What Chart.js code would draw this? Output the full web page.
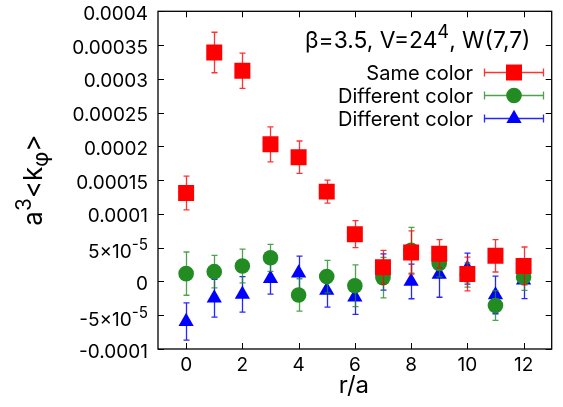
<!DOCTYPE html>
<html><head><meta charset="utf-8">
<script src="https://cdn.jsdelivr.net/npm/chart.js@4/dist/chart.umd.min.js"></script>
<style>html,body{margin:0;padding:0;background:#fff;} #wrap{width:563px;height:407px;position:relative;}</style>
</head><body><div id="wrap"><canvas id="c" width="563" height="407"></canvas></div>
<script>
// ---- data ----
const R = [0,1,2,3,4,5,6,7,8,9,10,11,12];
const SAME = [0.000131,0.000339,0.000312,0.000203,0.000184,0.000133,0.000070,0.000021,0.000043,0.000041,0.000011,0.000038,0.000023];
const SAME_ERR = [0.000025,0.000030,0.000026,0.000026,0.000024,0.000017,0.000020,0.000025,0.000032,0.000021,0.000025,0.000024,0.000028];
const DIFF_G = [0.0000116,0.0000145,0.0000228,0.000035,-0.00002,0.0000072,-0.0000064,0.0000057,0.0000462,0.0000267,0.0000096,-0.0000357,0.0000067];
const DIFF_G_ERR = [0.000032,0.000024,0.000025,0.000020,0.000024,0.000024,0.000031,0.000030,0.000034,0.000020,0.000018,0.000022,0.000020];
const DIFF_B = [-0.0000594,-0.0000247,-0.0000191,0.0000042,0.0000123,-0.000013,-0.0000232,0.000014,0.0,0.0000107,0.000019,-0.00002,0.000002];
const DIFF_B_ERR = [0.0000276,0.000028,0.0000263,0.0000229,0.0000251,0.0000251,0.0000256,0.0000268,0.0000256,0.0000341,0.000023,0.0000278,0.0000273];
const SERIES_LABELS = ["Same color","Different color","Different color"];
const X_TICKS = [0,2,4,6,8,10,12];
const Y_TICKS = [-0.0001,-0.00005,0,0.00005,0.0001,0.00015,0.0002,0.00025,0.0003,0.00035,0.0004];
const Y_TICK_LABELS = ["-0.0001","-5x10^{-5}","0","5x10^{-5}","0.0001","0.00015","0.0002","0.00025","0.0003","0.00035","0.0004"];
const KEY_TITLE = "β=3.5, V=24^{4}, W(7,7)";
const X_TITLE = "r/a";
const Y_TITLE = "a^{3}<k_{φ}>";

const FONT = 'Inter, "Liberation Sans", Arial, sans-serif';

function parseRich(s){
  const out=[]; let i=0, buf='';
  while(i<s.length){
    const c=s[i];
    if((c==='^'||c==='_') && s[i+1]==='{'){
      if(buf){out.push({t:buf,m:0}); buf='';}
      const j=s.indexOf('}',i);
      out.push({t:s.slice(i+2,j), m:c==='^'?1:-1});
      i=j+1;
    } else { buf+=c; i++; }
  }
  if(buf) out.push({t:buf,m:0});
  return out;
}
function drawRich(ctx,s,x,y,size,align){
  const parts=parseRich(s);
  const fonts=parts.map(p=>(p.m?size*0.8:size)+'px '+FONT);
  let w=0;
  const ws=parts.map((p,k)=>{ctx.font=fonts[k]; const m=ctx.measureText(p.t).width; w+=m; return m;});
  let cx = align==='right'? x-w : (align==='center'? x-w/2 : x);
  ctx.textAlign='left'; ctx.textBaseline='alphabetic';
  parts.forEach((p,k)=>{
    ctx.font=fonts[k];
    const dy = p.m===1 ? -size*0.42 : (p.m===-1 ? size*0.22 : 0);
    ctx.fillText(p.t,cx,y+dy);
    cx+=ws[k];
  });
  return w;
}

const SERIES = [
  {vals:SAME, errs:SAME_ERR, color:'#ff0000', err:'rgba(255,0,0,0.8)', style:'rect', r:11.3},
  {vals:DIFF_G, errs:DIFF_G_ERR, color:'#228b22', err:'rgba(34,139,34,0.8)', style:'circle', r:7.8},
  {vals:DIFF_B, errs:DIFF_B_ERR, color:'#0000ff', err:'rgba(0,0,255,0.85)', style:'triangle', r:8.8}
];

const datasets = SERIES.map((s,i)=>({
  label: SERIES_LABELS[i],
  data: R.map((x,k)=>({x:x, y:s.vals[k]})),
  errs: s.errs,
  errColor: s.err,
  backgroundColor: s.color,
  borderColor: s.color,
  borderWidth: 0,
  pointStyle: s.style,
  pointRadius: s.r,
  pointHoverRadius: s.r,
  showLine: false
}));

const errPlugin = {
  id:'errbars',
  beforeDatasetDraw(chart,args){
    const ds=chart.data.datasets[args.index];
    const xs=chart.scales.x, ys=chart.scales.y, ctx=chart.ctx;
    ctx.save();
    ctx.strokeStyle=ds.errColor; ctx.lineWidth=1.3;
    ds.data.forEach((p,i)=>{
      const e=ds.errs[i];
      const px=Math.round(xs.getPixelForValue(p.x))+0.5;
      const y1=ys.getPixelForValue(p.y+e), y2=ys.getPixelForValue(p.y-e);
      ctx.beginPath();
      ctx.moveTo(px,y1); ctx.lineTo(px,y2);
      ctx.moveTo(px-3,y1); ctx.lineTo(px+3,y1);
      ctx.moveTo(px-3,y2); ctx.lineTo(px+3,y2);
      ctx.stroke();
    });
    ctx.restore();
  }
};

const framePlugin = {
  id:'frame',
  beforeDatasetsDraw(chart){
    const {ctx, chartArea:a} = chart;
    const xs=chart.scales.x, ys=chart.scales.y;
    ctx.save();
    ctx.strokeStyle='#000'; ctx.lineWidth=1.3;
    ctx.strokeRect(a.left,a.top,a.right-a.left,a.bottom-a.top);
    ctx.lineWidth=1;
    ctx.beginPath();
    X_TICKS.forEach(v=>{
      const px=Math.round(xs.getPixelForValue(v))+0.5;
      ctx.moveTo(px,a.bottom); ctx.lineTo(px,a.bottom-6);
      ctx.moveTo(px,a.top); ctx.lineTo(px,a.top+6);
    });
    Y_TICKS.forEach(v=>{
      const py=Math.round(ys.getPixelForValue(v))+0.5;
      ctx.moveTo(a.left,py); ctx.lineTo(a.left+6,py);
      ctx.moveTo(a.right,py); ctx.lineTo(a.right-6,py);
    });
    ctx.stroke();
    ctx.restore();
  },
  afterDraw(chart){
    const {ctx, chartArea:a} = chart;
    const xs=chart.scales.x, ys=chart.scales.y;
    ctx.save();
    ctx.fillStyle='#000';
    // x tick labels
    ctx.font='19px '+FONT; ctx.textAlign='center'; ctx.textBaseline='alphabetic';
    X_TICKS.forEach(v=>{ ctx.fillText(String(v), xs.getPixelForValue(v), a.bottom+22); });
    // y tick labels
    Y_TICKS.forEach((v,i)=>{
      const lab=Y_TICK_LABELS[i];
      const py=ys.getPixelForValue(v);
      const off = lab.indexOf('^')>=0 ? 10.5 : 8.5;
      drawRich(ctx, lab, a.left-10, py+off, 19, 'right');
    });
    // axis titles
    ctx.font='24px '+FONT; ctx.textAlign='center';
    ctx.fillText(X_TITLE, (a.left+a.right)/2-1, 393);
    ctx.save();
    ctx.translate(42,(a.top+a.bottom)/2);
    ctx.rotate(-Math.PI/2);
    drawRich(ctx, Y_TITLE, 0, 0, 26, 'center');
    ctx.restore();
    // key title
    drawRich(ctx, KEY_TITLE, 305, 48, 22.8, 'left');
    // legend
    chart.data.datasets.forEach((ds,i)=>{
      const y=72+i*23;
      ctx.fillStyle='#000';
      ctx.font='20px '+FONT; ctx.textAlign='right'; ctx.textBaseline='alphabetic';
      ctx.fillText(ds.label, 473, y+7.5);
      ctx.strokeStyle=ds.errColor; ctx.lineWidth=1.3;
      ctx.beginPath();
      ctx.moveTo(484,y+0.5); ctx.lineTo(544,y+0.5);
      ctx.moveTo(484.5,y-3.5); ctx.lineTo(484.5,y+4.5);
      ctx.moveTo(543.5,y-3.5); ctx.lineTo(543.5,y+4.5);
      ctx.stroke();
      ctx.fillStyle=ds.backgroundColor;
      Chart.helpers.drawPoint(ctx,{pointStyle:ds.pointStyle, radius:ds.pointRadius, rotation:0, borderWidth:0}, 514, y+0.5);
    });
    ctx.restore();
  }
};

new Chart(document.getElementById('c'), {
  type:'scatter',
  data:{datasets},
  options:{
    responsive:false, animation:false, devicePixelRatio:1,
    layout:{padding:{left:158,right:0,top:8,bottom:58}},
    plugins:{legend:{display:false}, tooltip:{enabled:false}, title:{display:false}},
    scales:{
      x:{type:'linear', min:-1, max:13, display:false,
         afterBuildTicks:(s)=>{ s.ticks = X_TICKS.map(v=>({value:v})); }},
      y:{type:'linear', min:-0.0001, max:0.0004, display:false,
         afterBuildTicks:(s)=>{ s.ticks = Y_TICKS.map(v=>({value:v})); }}
    }
  },
  plugins:[errPlugin, framePlugin]
});
</script>
</body></html>
